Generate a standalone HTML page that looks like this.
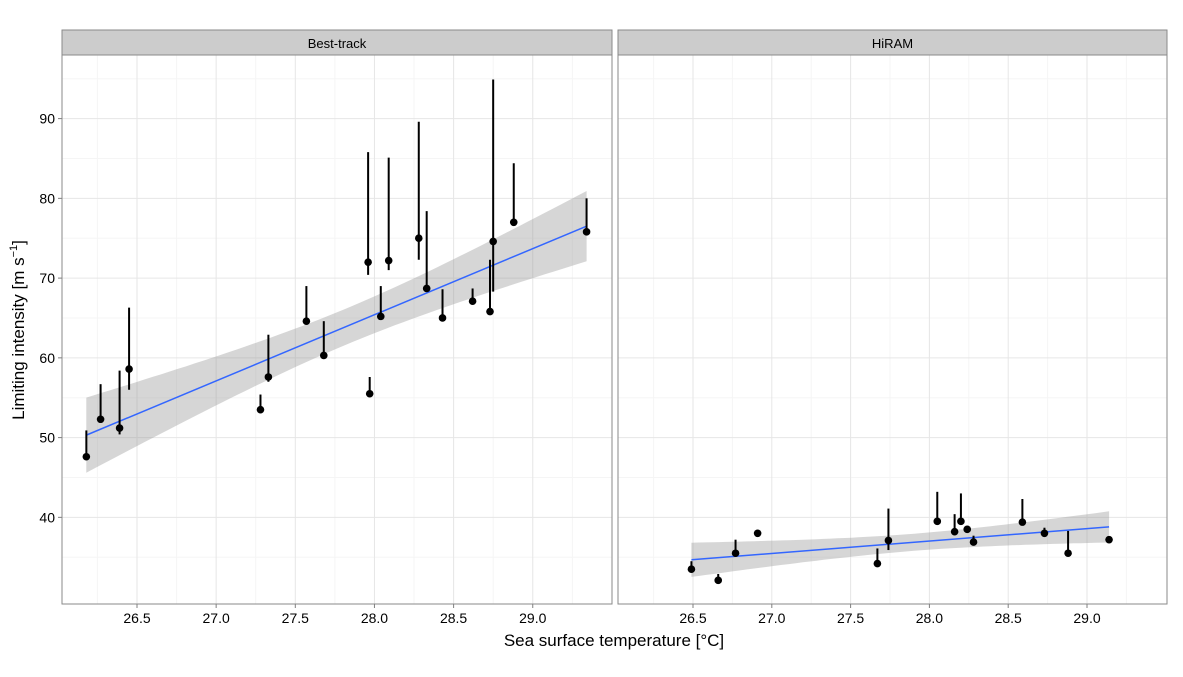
<!DOCTYPE html>
<html><head><meta charset="utf-8"><style>
html,body{margin:0;padding:0;background:#fff;}
svg{display:block;font-family:"Liberation Sans",Arial,sans-serif;}
</style></head><body>
<svg id="chart" width="1183" height="677" viewBox="0 0 1183 677" xmlns="http://www.w3.org/2000/svg">
<text x="614" y="646" font-size="17" text-anchor="middle" fill="#000">Sea surface temperature [°C]</text>
<text transform="translate(24,330) rotate(-90)" font-size="17" text-anchor="middle" fill="#000">Limiting intensity [m s<tspan font-size="11" dy="-7">−1</tspan><tspan dy="7">]</tspan></text>
</svg>
<script>
// Best-track data
const btSst = [26.18,26.27,26.39,26.45,27.28,27.33,27.57,27.68,27.97,27.96,28.09,28.04,28.28,28.33,28.43,28.62,28.73,28.75,28.88,29.34];
const btVal = [47.6,52.3,51.2,58.6,53.5,57.6,64.6,60.3,55.5,72.0,72.2,65.2,75.0,68.7,65.0,67.1,65.8,74.6,77.0,75.8];
const btLo  = [47.6,52.3,50.4,56.0,53.5,57.0,64.6,60.3,55.5,70.4,71.0,65.2,72.3,68.7,65.0,67.1,65.8,68.3,77.0,75.8];
const btHi  = [50.9,56.7,58.4,66.3,55.4,62.9,69.0,64.6,57.6,85.8,85.1,69.0,89.6,78.4,68.6,68.7,72.3,94.9,84.4,80.0];
// HiRAM data
const hrSst = [26.49,26.66,26.77,26.91,27.67,27.74,28.05,28.16,28.20,28.24,28.28,28.59,28.73,28.88,29.14];
const hrVal = [33.5,32.1,35.5,38.0,34.2,37.1,39.5,38.2,39.5,38.5,36.9,39.4,38.0,35.5,37.2];
const hrLo  = [33.5,32.1,35.5,38.0,34.2,35.9,39.5,37.8,39.5,38.5,36.9,39.4,38.0,35.5,37.2];
const hrHi  = [34.5,32.9,37.2,38.0,36.1,41.1,43.2,40.4,43.0,38.5,37.7,42.3,38.7,38.3,37.2];
const panelNames = ["Best-track","HiRAM"];
const xTicks = [26.5,27.0,27.5,28.0,28.5,29.0];
const yTicks = [40,50,60,70,80,90];

const NS="http://www.w3.org/2000/svg";
const svg=document.getElementById('chart');
function mk(tag,attrs,parent){const e=document.createElementNS(NS,tag);for(const k in attrs)e.setAttribute(k,attrs[k]);(parent||svg).appendChild(e);return e;}
const yTop=55, yBot=604;
const y=v=>118.6+(90-v)*7.975;
const panels=[
 {x0:62,x1:612,xa:137,sc:158.3,sst:btSst,val:btVal,lo:btLo,hi:btHi,tq:2.101,key:'best-track'},
 {x0:618,x1:1167,xa:693,sc:157.6,sst:hrSst,val:hrVal,lo:hrLo,hi:hrHi,tq:2.160,key:'hiram'}
];
panels.forEach((p,pi)=>{
  const x=t=>p.xa+(t-26.5)*p.sc;
  const g=mk('g',{});
  
  
  mk('rect',{x:p.x0,y:yTop,width:p.x1-p.x0,height:yBot-yTop,fill:'#fff'},g);
  for(let i=0;i<xTicks.length+1;i++){const t=26.25+i*0.5;const xx=x(t);if(xx>p.x0&&xx<p.x1)mk('line',{x1:xx,x2:xx,y1:yTop,y2:yBot,stroke:'#f5f5f5','stroke-width':1},g);}
  for(let v=35;v<=95;v+=10){const yy=y(v);if(yy>yTop&&yy<yBot)mk('line',{x1:p.x0,x2:p.x1,y1:yy,y2:yy,stroke:'#f5f5f5','stroke-width':1},g);}
  xTicks.forEach(t=>{mk('line',{x1:x(t),x2:x(t),y1:yTop,y2:yBot,stroke:'#e6e6e6','stroke-width':1},g);});
  yTicks.forEach(v=>{mk('line',{x1:p.x0,x2:p.x1,y1:y(v),y2:y(v),stroke:'#e6e6e6','stroke-width':1},g);});
  const n=p.sst.length;let mx=0,my=0;for(let i=0;i<n;i++){mx+=p.sst[i];my+=p.val[i];}mx/=n;my/=n;
  let sxx=0,sxy=0;for(let i=0;i<n;i++){sxx+=(p.sst[i]-mx)**2;sxy+=(p.sst[i]-mx)*(p.val[i]-my);}
  const b=sxy/sxx,a=my-b*mx;let sse=0;for(let i=0;i<n;i++)sse+=(p.val[i]-a-b*p.sst[i])**2;
  const s=Math.sqrt(sse/(n-2));
  const xmin=Math.min(...p.sst),xmax=Math.max(...p.sst);
  const up=[],dn=[];
  for(let k=0;k<=60;k++){const t=xmin+(xmax-xmin)*k/60;const f=a+b*t;const se=s*Math.sqrt(1/n+(t-mx)**2/sxx);
    up.push(x(t).toFixed(1)+','+y(f+p.tq*se).toFixed(1));dn.unshift(x(t).toFixed(1)+','+y(f-p.tq*se).toFixed(1));}
  const band=mk('polygon',{points:up.concat(dn).join(' '),fill:'#999','fill-opacity':0.4},g);
  
  
  const ln=mk('line',{x1:x(xmin),y1:y(a+b*xmin),x2:x(xmax),y2:y(a+b*xmax),stroke:'#3366ff','stroke-width':1.5},g);
  
  
  for(let i=0;i<n;i++){
    if(p.hi[i]>p.lo[i]){const bar=mk('line',{x1:x(p.sst[i]),x2:x(p.sst[i]),y1:y(p.lo[i]),y2:y(p.hi[i]),stroke:'#000','stroke-width':2},g);
      
      }
    const c=mk('circle',{cx:x(p.sst[i]),cy:y(p.val[i]),r:3.8,fill:'#000'},g);
    
    
  }
  mk('rect',{x:p.x0,y:yTop,width:p.x1-p.x0,height:yBot-yTop,fill:'none',stroke:'#8a8a8a','stroke-width':1},g);
  const st=mk('rect',{x:p.x0,y:30,width:p.x1-p.x0,height:yTop-30,fill:'#cccccc',stroke:'#8a8a8a','stroke-width':1},g);
  
  
  const stt=mk('text',{x:(p.x0+p.x1)/2,y:48,'font-size':13,'text-anchor':'middle',fill:'#000'},g);
  stt.textContent=panelNames[pi];
  
  
  xTicks.forEach(t=>{mk('line',{x1:x(t),x2:x(t),y1:yBot,y2:yBot+4,stroke:'#7f7f7f','stroke-width':1},g);
    const tl=mk('text',{x:x(t),y:yBot+19,'font-size':14,'text-anchor':'middle',fill:'#000'},g);
    tl.textContent=t.toFixed(1);
    
    });
  if(pi===0){yTicks.forEach(v=>{mk('line',{x1:p.x0-4,x2:p.x0,y1:y(v),y2:y(v),stroke:'#7f7f7f','stroke-width':1},g);
    const tl=mk('text',{x:p.x0-7,y:y(v)+5,'font-size':14,'text-anchor':'end',fill:'#000'},g);
    tl.textContent=String(v);
    
    });}
});
</script>
</body></html>
